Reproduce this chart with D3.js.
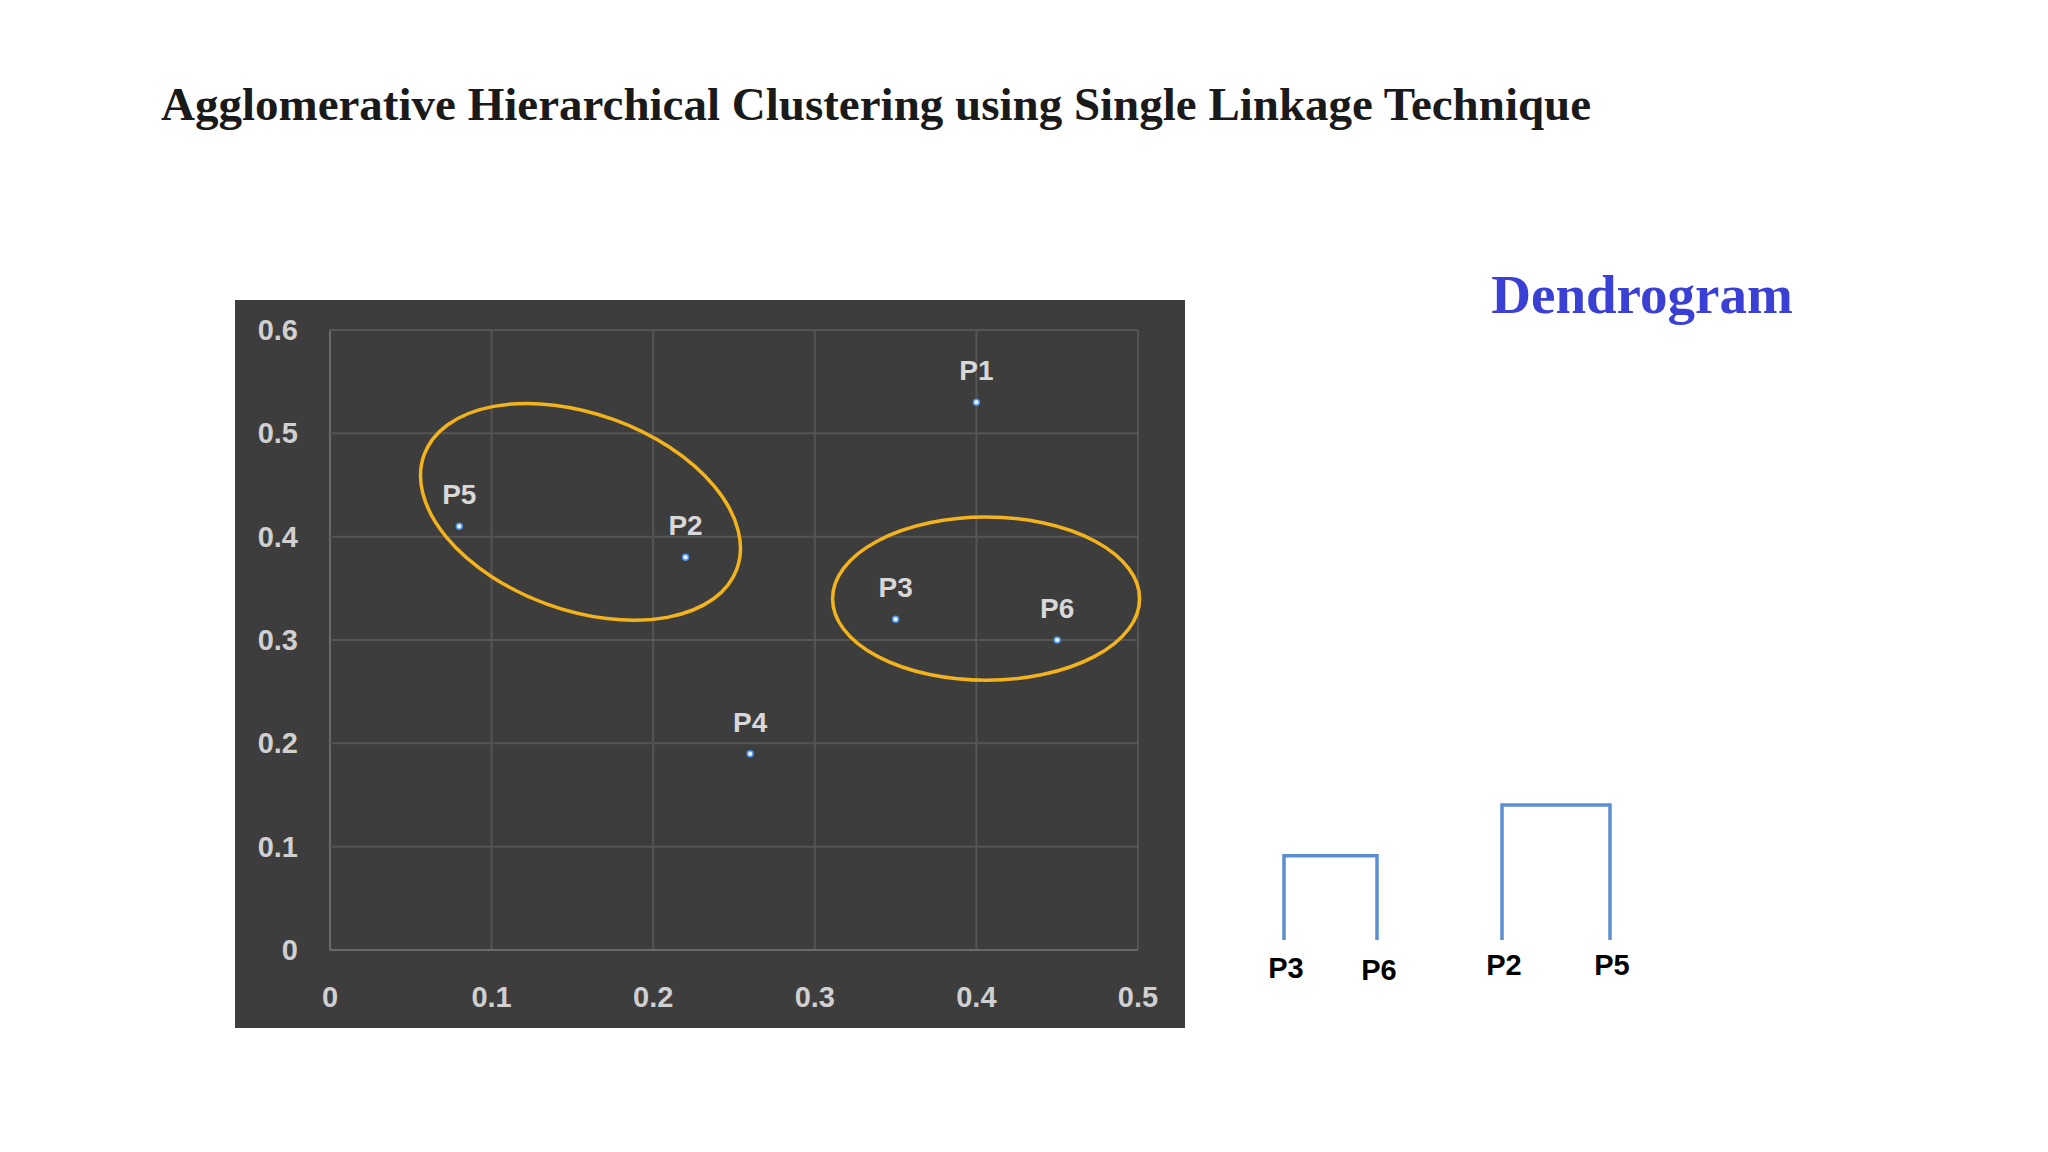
<!DOCTYPE html>
<html><head><meta charset="utf-8">
<script src="https://cdn.jsdelivr.net/npm/d3@7"></script>
<style>body{margin:0;background:#fff}</style>
</head><body>
<script>
const names = ["P1","P2","P3","P4","P5","P6"];
const xs = [0.40,0.22,0.35,0.26,0.08,0.45];
const ys = [0.53,0.38,0.32,0.19,0.41,0.30];
const xTicks = [0,0.1,0.2,0.3,0.4,0.5];
const yTicks = [0,0.1,0.2,0.3,0.4,0.5,0.6];
// cluster ellipses: centre x, centre y, radius x (x units), radius y (y units), rotation deg
const ellCx = [0.155,0.406];
const ellCy = [0.424,0.340];
const ellRx = [0.103,0.095];
const ellRy = [0.095,0.079];
const ellRot = [20,0];
// dendrogram merges
const dLeft = ["P3","P2"], dRight = ["P6","P5"];
const dHeight = [0.10,0.16];

const svg = d3.select("body").append("svg").attr("width",2048).attr("height",1152);
svg.append("text").attr("x",161).attr("y",120).attr("font-family","Liberation Serif, Times New Roman, serif")
  .attr("font-weight","bold").attr("font-size",47).attr("fill","#1a1a1a")
  .text("Agglomerative Hierarchical Clustering using Single Linkage Technique");

svg.append("rect").attr("x",235).attr("y",300).attr("width",950).attr("height",728).attr("fill","#3d3d3d");
const x = d3.scaleLinear().domain([0,0.5]).range([330,1138]);
const y = d3.scaleLinear().domain([0,0.6]).range([950,330]);
const g = svg.append("g");
g.selectAll(".vg").data(xTicks).join("line").attr("x1",d=>x(d)).attr("x2",d=>x(d)).attr("y1",y(0)).attr("y2",y(0.6))
  .attr("stroke",(d)=>d===0?"#6a6a6a":"#555").attr("stroke-width",2);
g.selectAll(".hg").data(yTicks).join("line").attr("y1",d=>y(d)).attr("y2",d=>y(d)).attr("x1",x(0)).attr("x2",x(0.5))
  .attr("stroke",(d)=>d===0?"#6a6a6a":"#555").attr("stroke-width",2);
const tf = "Liberation Sans, Arial, sans-serif";
g.selectAll(".xt").data(xTicks).join("text").attr("x",d=>x(d)).attr("y",1007).attr("text-anchor","middle")
  .attr("font-family",tf).attr("font-weight","bold").attr("font-size",29).attr("fill","#d0d0d0").text(d=>d===0?"0":d);
g.selectAll(".yt").data(yTicks).join("text").attr("x",298).attr("y",d=>y(d)+10).attr("text-anchor","end")
  .attr("font-family",tf).attr("font-weight","bold").attr("font-size",29).attr("fill","#d0d0d0").text(d=>d===0?"0":d);

const kx = (x(1)-x(0)), ky = (y(0)-y(1));
g.selectAll(".el").data(ellCx).join("ellipse")
  .attr("transform",(d,i)=>`translate(${x(d)},${y(ellCy[i])}) rotate(${ellRot[i]})`)
  .attr("rx",(d,i)=>ellRx[i]*kx).attr("ry",(d,i)=>ellRy[i]*ky)
  .attr("fill","none").attr("stroke","#f2b31c").attr("stroke-width",3.5);

g.selectAll(".pt").data(names).join("circle").attr("cx",(d,i)=>x(xs[i])).attr("cy",(d,i)=>y(ys[i])).attr("r",3)
  .attr("fill","#dff0ff").attr("stroke","#4a90e2").attr("stroke-width",1.5);
g.selectAll(".pl").data(names).join("text").attr("x",(d,i)=>x(xs[i])).attr("y",(d,i)=>y(ys[i])-22)
  .attr("text-anchor","middle").attr("font-family",tf).attr("font-weight","bold").attr("font-size",28).attr("fill","#d8d8d8").text(d=>d);

svg.append("text").attr("x",1642).attr("y",313).attr("text-anchor","middle").attr("font-family","Liberation Serif, Times New Roman, serif")
  .attr("font-weight","bold").attr("font-size",55).attr("fill","#3b40d4").text("Dendrogram");

const leafX = {P3:1284,P6:1377,P2:1502,P5:1610};
const hy = d3.scaleLinear().domain([0,0.16]).range([940,805]);
const dg = svg.append("g").attr("fill","none").attr("stroke","#5b8fd0").attr("stroke-width",3.5);
dLeft.forEach((l,i)=>{
  const r=dRight[i];
  dg.append("path").attr("d",`M${leafX[l]},${hy(0)}V${hy(dHeight[i])}H${leafX[r]}V${hy(0)}`);
});
const leaves = ["P3","P6","P2","P5"];
const leafDy = [0,2,-3,-3];
svg.selectAll(".dl").data(leaves).join("text").attr("x",d=>leafX[d]+2).attr("y",(d,i)=>978+leafDy[i])
  .attr("text-anchor","middle").attr("font-family",tf).attr("font-weight","bold").attr("font-size",29).attr("fill","#000").text(d=>d);
</script>
</body></html>
